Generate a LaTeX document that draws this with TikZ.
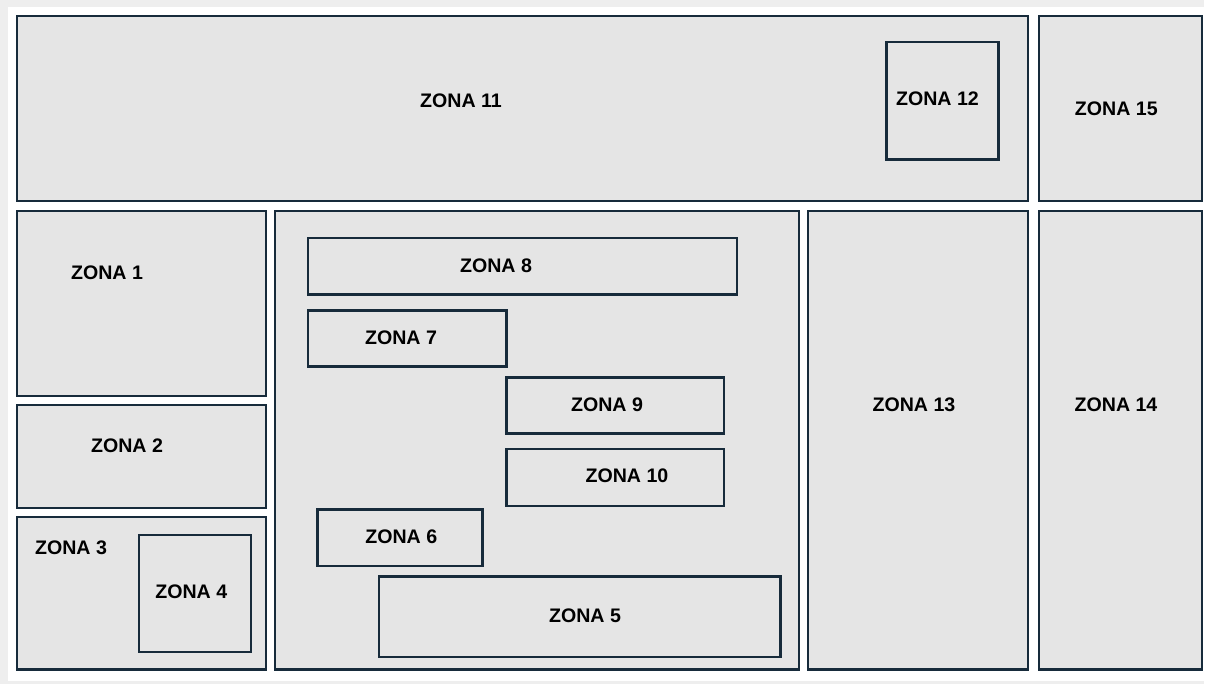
\documentclass[tikz,border=0pt]{standalone}
\usepackage{fontspec}
\setmainfont{Liberation Sans}
\definecolor{frame}{HTML}{EEEEEE}
\definecolor{zonefill}{HTML}{E5E5E5}
\definecolor{zoneline}{HTML}{172B3B}
\tikzset{
  zonebox/.style={draw=zoneline, fill=zonefill, line width=2.6pt},
  zonelabel/.style={inner sep=0pt, font=\fontsize{19.6}{22}\selectfont\bfseries, text=black}
}
\begin{document}
\begin{tikzpicture}[x=1pt,y=-1pt]
\useasboundingbox (0,0) rectangle (1213,684);
\fill[white] (0,0) rectangle (1213,684);
\fill[frame] (0,0) rectangle (8,684);
\fill[frame] (0,0) rectangle (1204,7);
\fill[frame] (0,681) rectangle (1204,684);
% outer zones
\draw[zonebox] (17,16) rectangle (1028,201);
\draw[zonebox] (1039,16) rectangle (1202,201);
\draw[zonebox] (17,211) rectangle (266,396);
\draw[zonebox] (17,405) rectangle (266,508);
\draw[zonebox] (17,517) rectangle (266,669.5);
\draw[zonebox] (275,211) rectangle (799,669.5);
\draw[zonebox] (808,211) rectangle (1028,669.5);
\draw[zonebox] (1039,211) rectangle (1202,669.5);
% inner zones
\draw[zonebox] (886.5,42) rectangle (998.5,159.5);
\draw[zonebox] (139,535) rectangle (251,652);
\draw[zonebox] (308,238) rectangle (737,294.5);
\draw[zonebox] (308,310.5) rectangle (506.5,366.5);
\draw[zonebox] (506.5,377.5) rectangle (724,433.5);
\draw[zonebox] (506.5,449) rectangle (724,506);
\draw[zonebox] (317.5,509.5) rectangle (482.5,566);
\draw[zonebox] (379,576.5) rectangle (780.5,657);
% labels
\node[zonelabel] (z11) at (461,101) {ZONA 11};
\node[zonelabel] (z12) at (937.5,99) {ZONA 12};
\node[zonelabel] (z15) at (1116.3,108.5) {ZONA 15};
\node[zonelabel] (z1) at (107,273) {ZONA 1};
\node[zonelabel] (z2) at (127,446) {ZONA 2};
\node[zonelabel] (z3) at (71,548) {ZONA 3};
\node[zonelabel] (z4) at (191.3,592) {ZONA 4};
\node[zonelabel] (z8) at (496,266) {ZONA 8};
\node[zonelabel] (z7) at (401,338) {ZONA 7};
\node[zonelabel] (z9) at (607,405) {ZONA 9};
\node[zonelabel] (z10) at (627,476) {ZONA 10};
\node[zonelabel] (z6) at (401.3,536.5) {ZONA 6};
\node[zonelabel] (z5) at (585,616) {ZONA 5};
\node[zonelabel] (z13) at (914,405) {ZONA 13};
\node[zonelabel] (z14) at (1116,405) {ZONA 14};
\end{tikzpicture}
\end{document}
